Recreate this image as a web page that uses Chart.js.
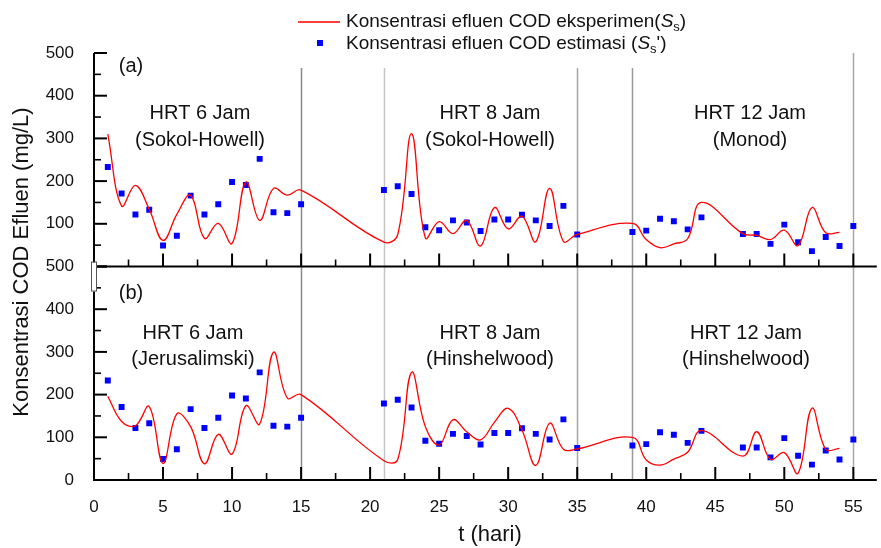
<!DOCTYPE html>
<html>
<head>
<meta charset="utf-8">
<script src="https://cdn.jsdelivr.net/npm/chart.js@4.4.0/dist/chart.umd.min.js"></script>
<style>
    html, body { margin: 0; padding: 0; background: #ffffff; }
</style>
</head>
<body>
<canvas id="chart" width="881" height="548"></canvas>
<script>
// days with estimated points (S_s') - same in both panels
const estDays = [1, 2, 3, 4, 5, 6, 7, 8, 9, 10, 11, 12, 13, 14, 15,
                 21, 22, 23, 24, 25, 26, 27, 28, 29, 30, 31, 32, 33, 34, 35,
                 39, 40, 41, 42, 43, 44, 47, 48, 49, 50, 51, 52, 53, 54, 55];
const estValues = [233, 171, 122, 133, 49, 72, 166, 122, 146, 198, 191, 252, 127, 125, 146,
                   179, 188, 170, 92, 85, 108, 103, 83, 110, 110, 121, 108, 95, 142, 75,
                   81, 84, 112, 106, 87, 115, 76, 76, 53, 98, 57, 36, 69, 48, 95];

// days with the experimental curve (S_s)
const modelDays = [1, 2, 3, 4, 5, 6, 7, 8, 9, 10, 11, 12, 13, 14, 15,
                   21, 22, 23, 24, 25, 26, 27, 28, 29, 30, 31, 32, 33, 34, 35,
                   39, 40, 41, 42, 43, 44, 47, 48, 49, 50, 51, 52, 53, 54];
// panel (a): Sokol-Howell / Sokol-Howell / Monod
const modelTop = [310, 142, 190, 134, 61, 122, 167, 66, 101, 54, 198, 108, 183, 167, 179,
                  57, 75, 311, 67, 105, 77, 108, 48, 138, 88, 118, 58, 183, 59, 75,
                  101, 63, 44, 53, 65, 150, 77, 73, 63, 85, 49, 138, 79, 80];
// panel (b): Jerusalimski / Hinshelwood / Hinshelwood
const modelBottom = [196, 137, 127, 172, 39, 155, 125, 38, 107, 61, 174, 131, 299, 192, 200,
                     45, 48, 252, 125, 82, 141, 113, 94, 135, 168, 117, 34, 133, 72, 73,
                     100, 47, 35, 49, 65, 116, 56, 113, 48, 64, 16, 168, 72, 74];

const xTickStep = 5;
const yTickStep = 100;
const phaseLines = [15, 21, 35, 39, 55];

const FONT = "'Liberation Sans', Arial, sans-serif";

function toPoints(days, values) {
    return days.map((d, i) => ({ x: d, y: values[i] }));
}

function drawRich(ctx, x, y, parts) {
    parts.forEach(p => {
        ctx.font = p.font;
        ctx.fillText(p.t, x, y + (p.dy || 0));
        x += ctx.measureText(p.t).width;
    });
}

const decor = {
    id: "decor",
    beforeDatasetsDraw(chart) {
        const ctx = chart.ctx;
        const x = chart.scales.x, yt = chart.scales.yTop, yb = chart.scales.yBot;
        const colors = ["#8a8a8a", "#c4c4c4", "#a6a6a6", "#999999", "#a6a6a6"];
        const tops = [465, 465, 465, 465, 500];
        ctx.save();
        ctx.lineWidth = 1.5;
        phaseLines.forEach((d, i) => {
            const px = Math.round(x.getPixelForValue(d)) + 0.5;
            ctx.strokeStyle = colors[i];
            ctx.beginPath();
            ctx.moveTo(px, yt.getPixelForValue(tops[i]));
            ctx.lineTo(px, yb.getPixelForValue(0));
            ctx.stroke();
        });
        ctx.restore();
    },
    afterDraw(chart) {
        const ctx = chart.ctx;
        const x = chart.scales.x, yt = chart.scales.yTop, yb = chart.scales.yBot;
        const left = x.getPixelForValue(0);
        const right = chart.chartArea.right;
        ctx.save();
        ctx.strokeStyle = "#000000";
        ctx.lineWidth = 2;
        ctx.beginPath();
        ctx.moveTo(left, yt.getPixelForValue(500));
        ctx.lineTo(left, yb.getPixelForValue(0) + 1);
        ctx.moveTo(left, yt.getPixelForValue(0));
        ctx.lineTo(right, yt.getPixelForValue(0));
        ctx.moveTo(left, yb.getPixelForValue(0));
        ctx.lineTo(right, yb.getPixelForValue(0));
        ctx.stroke();

        // inward ticks
        [yt, yb].forEach(s => {
            for (let v = 0; v <= 500; v += 50) {
                const len = v % 100 === 0 ? 13 : 7;
                const py = s.getPixelForValue(v);
                ctx.lineWidth = v % 100 === 0 ? 2 : 1.6;
                ctx.beginPath();
                ctx.moveTo(left, py);
                ctx.lineTo(left + len, py);
                ctx.stroke();
            }
            for (let d = 0; d <= 55; d += 2.5) {
                const len = d % 5 === 0 ? 13 : 7;
                const px = x.getPixelForValue(d);
                const py = s.getPixelForValue(0);
                ctx.lineWidth = d % 5 === 0 ? 2 : 1.6;
                ctx.beginPath();
                ctx.moveTo(px, py);
                ctx.lineTo(px, py - len);
                ctx.stroke();
            }
        });

        // axis break mark
        const mid = yt.getPixelForValue(0);
        ctx.fillStyle = "#ffffff";
        ctx.fillRect(left - 3, mid - 4, 6, 29);
        ctx.lineWidth = 1;
        ctx.strokeStyle = "#555555";
        ctx.strokeRect(left - 2.5, mid - 4.5, 5, 29);

        // panel annotations
        ctx.fillStyle = "#111111";
        ctx.textBaseline = "middle";
        ctx.textAlign = "center";
        ctx.font = "20px " + FONT;
        ctx.fillText("(a)", 131, 66);
        ctx.fillText("HRT 6 Jam", 200, 113);
        ctx.fillText("(Sokol-Howell)", 200, 140);
        ctx.fillText("HRT 8 Jam", 490, 113);
        ctx.fillText("(Sokol-Howell)", 490, 140);
        ctx.fillText("HRT 12 Jam", 750, 113);
        ctx.fillText("(Monod)", 750, 140);
        ctx.fillText("(b)", 131, 293);
        ctx.fillText("HRT 6 Jam", 193, 333);
        ctx.fillText("(Jerusalimski)", 193, 359);
        ctx.fillText("HRT 8 Jam", 490, 333);
        ctx.fillText("(Hinshelwood)", 490, 359);
        ctx.fillText("HRT 12 Jam", 746, 333);
        ctx.fillText("(Hinshelwood)", 746, 359);

        // axis titles
        ctx.font = "22px " + FONT;
        ctx.fillText("t (hari)", 490, 535);
        ctx.save();
        ctx.translate(22, 262);
        ctx.rotate(-Math.PI / 2);
        ctx.fillText("Konsentrasi COD Efluen (mg/L)", 0, 0);
        ctx.restore();

        // legend
        ctx.strokeStyle = "#ff0000";
        ctx.lineWidth = 1.5;
        ctx.beginPath();
        ctx.moveTo(298, 22);
        ctx.lineTo(340, 22);
        ctx.stroke();
        ctx.fillStyle = "#0000ff";
        ctx.fillRect(317, 40, 6, 6);
        ctx.fillStyle = "#111111";
        ctx.textAlign = "left";
        const norm = "19px " + FONT, ital = "italic 19px " + FONT, sub = "13px " + FONT;
        drawRich(ctx, 346, 22, [
            { t: "Konsentrasi efluen COD eksperimen(", font: norm },
            { t: "S", font: ital },
            { t: "s", font: sub, dy: 5 },
            { t: ")", font: norm }
        ]);
        drawRich(ctx, 346, 44, [
            { t: "Konsentrasi efluen COD estimasi (", font: norm },
            { t: "S", font: ital },
            { t: "s", font: sub, dy: 5 },
            { t: "')", font: norm }
        ]);
        ctx.restore();
    }
};

const curveStyle = { borderColor: "#ff0000", borderWidth: 1.3, pointRadius: 0, tension: 0.4, fill: false };
const pointStyle = { showLine: false, pointStyle: "rect", pointRadius: 4.2, pointBorderWidth: 0,
                     pointBackgroundColor: "#0000ff", backgroundColor: "#0000ff", borderColor: "#0000ff" };

const yAxis = {
    type: "linear",
    position: "left",
    stack: "panels",
    stackWeight: 1,
    min: 0,
    max: 500,
    grid: { display: false, drawTicks: false },
    border: { display: false },
    ticks: {
        stepSize: yTickStep,
        padding: 20,
        color: "#111111",
        font: { family: FONT, size: 17 }
    },
    afterFit: s => { s.width = 94; s.paddingTop = 0; s.paddingBottom = 0; }
};

const graph = new Chart(document.getElementById("chart"), {
    type: "line",
    data: {
        datasets: [
            Object.assign({ label: "S_s (a)", data: toPoints(modelDays, modelTop), yAxisID: "yTop" }, curveStyle),
            Object.assign({ label: "S_s' (a)", data: toPoints(estDays, estValues), yAxisID: "yTop" }, pointStyle),
            Object.assign({ label: "S_s (b)", data: toPoints(modelDays, modelBottom), yAxisID: "yBot" }, curveStyle),
            Object.assign({ label: "S_s' (b)", data: toPoints(estDays, estValues), yAxisID: "yBot" }, pointStyle)
        ]
    },
    options: {
        responsive: false,
        animation: false,
        layout: { padding: { top: 53, left: 0, right: 0, bottom: 0 } },
        plugins: {
            legend: { display: false },
            tooltip: { enabled: false }
        },
        scales: {
            x: {
                type: "linear",
                position: "bottom",
                min: 0,
                max: 56.7,
                grid: { display: false, drawTicks: false },
                border: { display: false },
                ticks: {
                    stepSize: xTickStep,
                    includeBounds: false,
                    padding: 17,
                    color: "#111111",
                    font: { family: FONT, size: 17 }
                },
                afterFit: s => { s.height = 68; s.paddingLeft = 0; s.paddingRight = 0; }
            },
            yBot: Object.assign({}, yAxis),
            yTop: Object.assign({}, yAxis, {
                ticks: Object.assign({}, yAxis.ticks, {
                    callback: v => (v === 0 ? "" : v)
                })
            })
        }
    },
    plugins: [decor]
});
</script>
</body>
</html>
